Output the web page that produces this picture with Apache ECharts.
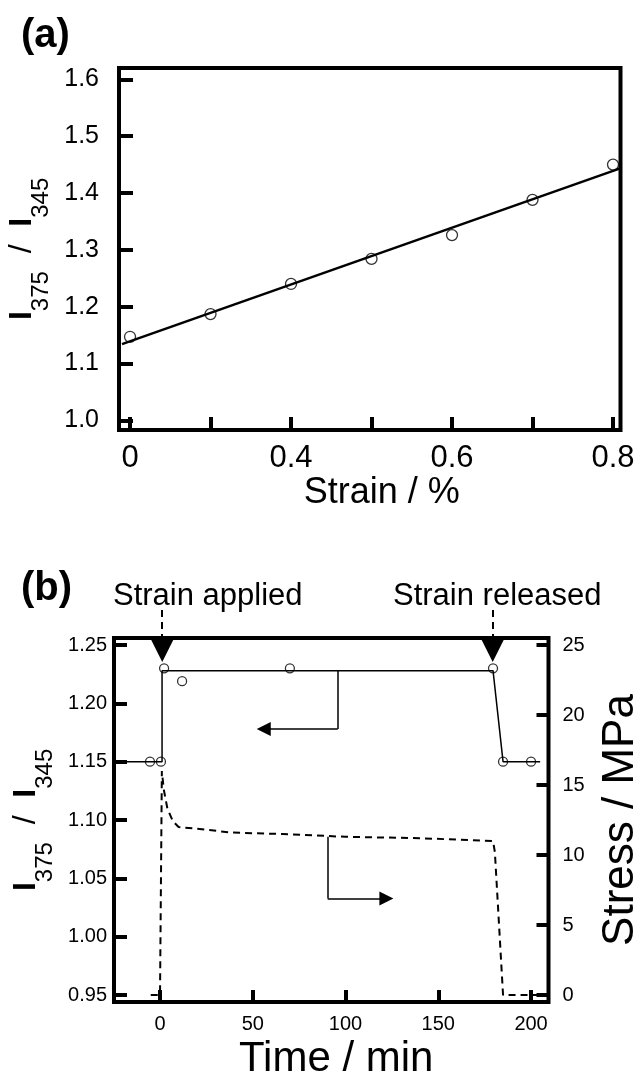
<!DOCTYPE html>
<html>
<head>
<meta charset="utf-8">
<script src="https://cdn.jsdelivr.net/npm/echarts@6/dist/echarts.min.js"></script>
<style>
  html, body { margin: 0; padding: 0; background: #fff; }
  #chart { width: 635px; height: 1076px; }
</style>
</head>
<body>
<div id="chart"></div>
<script>
var FONT = "'Liberation Sans', Arial, Helvetica, sans-serif";

// (a) ratio vs strain - ticks are evenly spaced, only some carry a label
var strainTicks = [0, 1, 2, 3, 4, 5, 6];
var strainLabelTicks = [0, 2, 4, 6];
var strainLabels = ['0', '0.4', '0.6', '0.8'];
var ratioTicksA = [1.0, 1.1, 1.2, 1.3, 1.4, 1.5, 1.6];
var ratioA = [1.147, 1.187, 1.240, 1.284, 1.326, 1.388, 1.450];
var fitStrain = [-0.1, 6.08];
var fitRatio = [1.134, 1.443];

// (b) ratio and stress vs time
var timeTicks = [0, 50, 100, 150, 200];
var ratioTicksB = [0.95, 1.00, 1.05, 1.10, 1.15, 1.20, 1.25];
var stressTicks = [0, 5, 10, 15, 20, 25];
var obsTime = [-5.4, 0.5, 2.2, 11.9, 70, 179.5, 184.9, 200];
var obsRatio = [1.150, 1.150, 1.230, 1.219, 1.230, 1.230, 1.150, 1.150];
var stepTime = [-24.8, 1.1, 1.1, 179.5, 184.9, 204.9];
var stepRatio = [1.150, 1.150, 1.228, 1.228, 1.150, 1.150];
var stressTime = [-5, 0, 1, 2, 4, 7, 10, 18, 39, 66, 100, 140, 179.5, 180.5, 184.9, 207.5];
var stress = [0, 0, 16.0, 14.7, 13.3, 12.4, 12.0, 11.9, 11.6, 11.5, 11.3, 11.2, 11.0, 10.2, 0, 0];

// annotation arrows (data units)
var appliedArrow = [[1.2, 1.280], [1.2, 1.2457]];
var releasedArrow = [[179.3, 1.280], [179.3, 1.2457]];
var ratioPointerStem = [[95.8, 1.228], [95.8, 1.178]];
var ratioPointerHead = [[95.8, 1.178], [55.9, 1.178]];
var stressPointerStem = [[90.4, 11.3], [90.4, 6.9]];
var stressPointerHead = [[90.4, 6.9], [122, 6.9]];

function zip(xs, ys) {
  var out = [];
  for (var i = 0; i < xs.length; i++) {
    out.push([xs[i], ys[i]]);
  }
  return out;
}

var black = '#000';
var tickStyle = { width: 4, color: black };
var noLine = { show: false, onZero: false };

function yName() {
  return {
    rich: {
      h: { fontSize: 1, lineHeight: 47 },
      i: { fontSize: 32, fontWeight: 'bold', lineHeight: 32, verticalAlign: 'top', color: black, fontFamily: FONT },
      m: { fontSize: 32, lineHeight: 32, verticalAlign: 'top', color: black, fontFamily: FONT },
      s: { fontSize: 24, lineHeight: 24, verticalAlign: 'bottom', color: black, fontFamily: FONT }
    }
  };
}
var yNameText = '{h| }{i|I}{s|375}{m|  /  }{i|I}{s|345}';

function arrowLines(data, yIdx, opts) {
  var s = {
    type: 'lines',
    coordinateSystem: 'cartesian2d',
    xAxisIndex: 1,
    yAxisIndex: yIdx,
    polyline: false,
    silent: true,
    clip: false,
    symbol: ['none', 'none'],
    lineStyle: { color: black, width: 1.5, opacity: 1, curveness: 0 },
    data: [{ coords: data }]
  };
  for (var k in opts) s[k] = opts[k];
  return s;
}

var chart = echarts.init(document.getElementById('chart'));

var option = {
  backgroundColor: '#fff',
  animation: false,
  textStyle: { fontFamily: FONT, color: black },
  grid: [
    { left: 119, right: 14.5, top: 68, bottom: 646, show: true, borderColor: black, borderWidth: 4,
      containLabel: false, outerBoundsMode: 'none' },
    { left: 114, right: 86.5, top: 638, bottom: 74, show: true, borderColor: black, borderWidth: 4,
      containLabel: false, outerBoundsMode: 'none' }
  ],
  xAxis: [
    {
      gridIndex: 0, type: 'value', min: -0.137, max: 6.093,
      axisLine: noLine, splitLine: { show: false },
      axisTick: { inside: true, length: 13, customValues: strainTicks, lineStyle: tickStyle },
      axisLabel: {
        customValues: strainLabelTicks, fontSize: 31, color: black, margin: 13, fontFamily: FONT,
        formatter: function(v) { return strainLabels[strainLabelTicks.indexOf(v)]; }
      },
      name: 'Strain / %', nameLocation: 'middle', nameGap: 45,
      nameTextStyle: { fontSize: 36, color: black, fontFamily: FONT, padding: [0, 0, 0, 24] }
    },
    {
      gridIndex: 1, type: 'value', min: -24.8, max: 209.4,
      axisLine: noLine, splitLine: { show: false },
      axisTick: { inside: true, length: 12, customValues: timeTicks, lineStyle: tickStyle },
      axisLabel: { customValues: timeTicks, fontSize: 20, color: black, margin: 12, fontFamily: FONT },
      name: 'Time / min', nameLocation: 'middle', nameGap: 36,
      nameTextStyle: { fontSize: 42, color: black, fontFamily: FONT, padding: [0, 0, 0, 10] }
    }
  ],
  yAxis: [
    {
      gridIndex: 0, type: 'value', min: 0.983, max: 1.620,
      axisLine: noLine, splitLine: { show: false },
      axisTick: { inside: true, length: 14, customValues: ratioTicksA, lineStyle: tickStyle },
      axisLabel: {
        customValues: ratioTicksA, fontSize: 25, color: black, margin: 20, fontFamily: FONT,
        formatter: function(v) { return v.toFixed(1); }
      },
      name: yNameText, nameLocation: 'middle', nameGap: 62,
      nameTextStyle: yName()
    },
    {
      gridIndex: 1, type: 'value', min: 0.944, max: 1.256,
      axisLine: noLine, splitLine: { show: false },
      axisTick: { inside: true, length: 13, customValues: ratioTicksB, lineStyle: tickStyle },
      axisLabel: {
        customValues: ratioTicksB, fontSize: 20, color: black, margin: 7, fontFamily: FONT,
        formatter: function(v) { return v.toFixed(2); }
      },
      name: yNameText, nameLocation: 'middle', nameGap: 54,
      nameTextStyle: yName()
    },
    {
      gridIndex: 1, type: 'value', position: 'right', min: -0.5, max: 25.5,
      axisLine: noLine, splitLine: { show: false },
      axisTick: { inside: true, length: 12, customValues: stressTicks, lineStyle: tickStyle },
      axisLabel: { customValues: stressTicks, fontSize: 20, color: black, margin: 14, fontFamily: FONT },
      name: 'Stress / MPa', nameLocation: 'middle', nameGap: 50,
      nameTextStyle: { fontSize: 44, color: black, fontFamily: FONT }
    }
  ],
  graphic: [
    { type: 'text', left: 21, top: 16, style: { text: '(a)', fontSize: 40, fontWeight: 'bold', fontFamily: FONT, fill: black } },
    { type: 'text', left: 21, top: 569, style: { text: '(b)', fontSize: 40, fontWeight: 'bold', fontFamily: FONT, fill: black } },
    { type: 'text', left: 113, top: 581, style: { text: 'Strain applied', fontSize: 31, fontFamily: FONT, fill: black } },
    { type: 'text', left: 393, top: 581, style: { text: 'Strain released', fontSize: 31, fontFamily: FONT, fill: black } }
  ],
  series: [
    {
      type: 'line', xAxisIndex: 0, yAxisIndex: 0, showSymbol: false, silent: true,
      lineStyle: { color: black, width: 2.5 },
      data: zip(fitStrain, fitRatio)
    },
    {
      type: 'scatter', xAxisIndex: 0, yAxisIndex: 0, silent: true,
      symbol: 'circle', symbolSize: 11,
      itemStyle: { color: 'rgba(255,255,255,0)', borderColor: black, borderWidth: 1.3 },
      data: zip(strainTicks, ratioA)
    },
    {
      type: 'line', xAxisIndex: 1, yAxisIndex: 1, showSymbol: false, silent: true,
      lineStyle: { color: black, width: 1.5 },
      data: zip(stepTime, stepRatio)
    },
    {
      type: 'line', xAxisIndex: 1, yAxisIndex: 2, showSymbol: false, silent: true,
      lineStyle: { color: black, width: 2, type: [7, 5] },
      data: zip(stressTime, stress)
    },
    {
      type: 'scatter', xAxisIndex: 1, yAxisIndex: 1, silent: true,
      symbol: 'circle', symbolSize: 9,
      itemStyle: { color: '#fff', borderColor: black, borderWidth: 1.3 },
      data: zip(obsTime, obsRatio)
    },
    arrowLines(appliedArrow, 1, {
      symbol: ['none', 'triangle'], symbolSize: [12, 24],
      lineStyle: { color: black, width: 2, type: [7, 5], opacity: 1 }
    }),
    arrowLines(releasedArrow, 1, {
      symbol: ['none', 'triangle'], symbolSize: [12, 24],
      lineStyle: { color: black, width: 2, type: [7, 5], opacity: 1 }
    }),
    arrowLines(ratioPointerStem, 1, {}),
    arrowLines(ratioPointerHead, 1, { symbol: ['none', 'triangle'], symbolSize: [13, 14] }),
    arrowLines(stressPointerStem, 2, {}),
    arrowLines(stressPointerHead, 2, { symbol: ['none', 'triangle'], symbolSize: [13, 14] })
  ]
};

chart.setOption(option);
</script>
</body>
</html>
